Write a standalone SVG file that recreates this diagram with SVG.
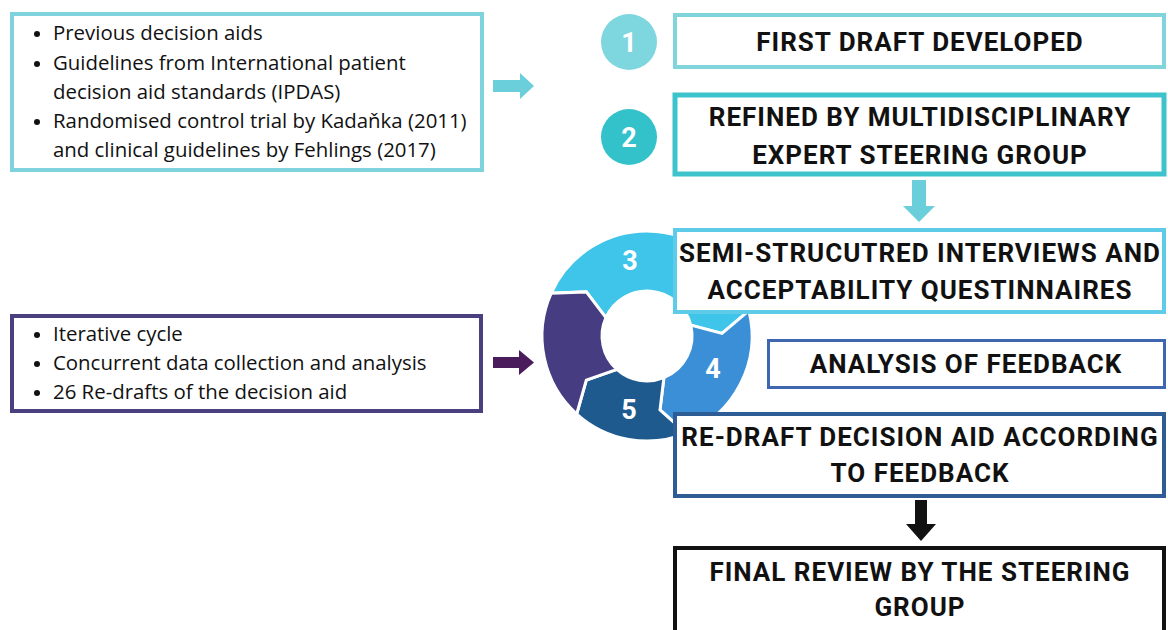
<svg xmlns="http://www.w3.org/2000/svg" width="1168" height="630" viewBox="0 0 1168 630">
<style>
.box{fill:#fff}
.body{font-family:"Open Sans","Liberation Sans",sans-serif;font-size:20.4px;fill:#111}
.head{font-family:Roboto,"Liberation Sans",sans-serif;font-weight:700;font-size:26px;letter-spacing:1px;fill:#111;text-anchor:middle}
.num{font-family:Roboto,"Liberation Sans",sans-serif;font-weight:700;font-size:27px;fill:#fff;text-anchor:middle}
.seg{stroke:#fff;stroke-width:3;stroke-linejoin:miter}
</style>
<rect width="1168" height="630" fill="#fff"/>

<g id="sources">
<rect class="box" x="12" y="14" width="470" height="156" stroke="#7fd3dc" stroke-width="4"/>
<circle cx="37" cy="34" r="3" fill="#111"/>
<circle cx="37" cy="64" r="3" fill="#111"/>
<circle cx="37" cy="122" r="3" fill="#111"/>
<text class="body" x="53" y="40">Previous decision aids</text>
<text class="body" x="53" y="70">Guidelines from International patient</text>
<text class="body" x="53" y="99">decision aid standards (IPDAS)</text>
<text class="body" x="53" y="128">Randomised control trial by Kadaňka (2011)</text>
<text class="body" x="53" y="157">and clinical guidelines by Fehlings (2017)</text>
</g>

<g id="method">
<rect class="box" x="12" y="316" width="469" height="95" stroke="#4a4080" stroke-width="4"/>
<circle cx="37" cy="335" r="3" fill="#111"/>
<circle cx="37" cy="364" r="3" fill="#111"/>
<circle cx="37" cy="393" r="3" fill="#111"/>
<text class="body" x="53" y="341">Iterative cycle</text>
<text class="body" x="53" y="370">Concurrent data collection and analysis</text>
<text class="body" x="53" y="399">26 Re-drafts of the decision aid</text>
</g>

<g id="step1">
<circle cx="629" cy="42" r="28" fill="#7ed6de"/>
<text class="num" x="629" y="51.5">1</text>
<rect class="box" x="675" y="15" width="489" height="52" stroke="#80d4dc" stroke-width="4"/>
<text class="head" x="920" y="51">FIRST DRAFT DEVELOPED</text>
</g>

<g id="step2">
<circle cx="629" cy="137" r="28" fill="#33c2ca"/>
<text class="num" x="629" y="146.5">2</text>
<rect class="box" x="675" y="95" width="489" height="79" stroke="#3cc3cb" stroke-width="5"/>
<text class="head" x="920" y="126">REFINED BY MULTIDISCIPLINARY</text>
<text class="head" x="920" y="164">EXPERT STEERING GROUP</text>
</g>

<g id="cycle">
<path class="seg" fill="#3fc4ea" d="M551.1,293.3 A105,105 0 0 1 748.9,310.6 L722,333.4 L690.7,325.1 A45,45 0 0 0 605.9,317.7 L586.3,291.9 Z"/>
<path class="seg" fill="#3a8fd6" d="M748.9,310.6 A105,105 0 0 1 686.3,433.4 L660,409.9 L663.9,377.7 A45,45 0 0 0 690.7,325.1 L722,333.4 Z"/>
<path class="seg" fill="#1e5a8e" d="M686.3,433.4 A105,105 0 0 1 576.7,414 L586.3,380.1 L616.9,369.4 A45,45 0 0 0 663.9,377.7 L660,409.9 Z"/>
<path class="seg" fill="#453c82" d="M576.7,414 A105,105 0 0 1 551.1,293.3 L586.3,291.9 L605.9,317.7 A45,45 0 0 0 616.9,369.4 L586.3,380.1 Z"/>
<text class="num" x="630" y="269.5">3</text>
<text class="num" x="713" y="377.5">4</text>
<text class="num" x="629" y="418.5">5</text>
</g>

<g id="step3">
<rect class="box" x="675" y="230" width="489" height="82" stroke="#5ecbe9" stroke-width="4"/>
<text class="head" x="920" y="262">SEMI-STRUCUTRED INTERVIEWS AND</text>
<text class="head" x="920" y="299">ACCEPTABILITY QUESTINNAIRES</text>
</g>

<g id="step4">
<rect class="box" x="768.5" y="340.5" width="396" height="47" stroke="#3f66b0" stroke-width="3"/>
<text class="head" x="966" y="373">ANALYSIS OF FEEDBACK</text>
</g>

<g id="step5">
<rect class="box" x="675" y="414" width="489" height="82" stroke="#2e5d96" stroke-width="4"/>
<text class="head" x="920" y="446">RE-DRAFT DECISION AID ACCORDING</text>
<text class="head" x="920" y="482">TO FEEDBACK</text>
</g>

<g id="step6">
<rect class="box" x="675" y="548" width="489" height="100" stroke="#111" stroke-width="4"/>
<text class="head" x="920" y="581">FINAL REVIEW BY THE STEERING</text>
<text class="head" x="920" y="616">GROUP</text>
</g>

<g id="connectors">
<polygon fill="#6bcfdb" points="493,80 520,80 520,73 534,86 520,99 520,92 493,92"/>
<polygon fill="#6bcfdb" points="912,180 926,180 926,206 935,206 919,222 903,206 912,206"/>
<polygon fill="#4b1c5b" points="493,357 519,357 519,350 534,362.5 519,375 519,368 493,368"/>
<polygon fill="#111" points="915,500 927,500 927,524 936,524 921,541 906,524 915,524"/>
</g>
</svg>
